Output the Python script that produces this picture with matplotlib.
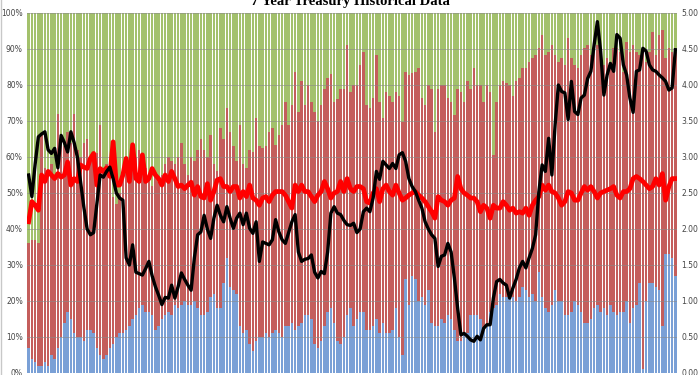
import matplotlib
matplotlib.use('Agg')
import matplotlib.pyplot as plt
import numpy as np

# share of each auction taken by directs (blue) and directs + indirects (top of red)
direct = [7, 4, 3, 2, 2, 3, 2, 5, 4, 7,
          10, 14, 17, 15, 11, 10, 10, 9, 12, 12,
          11, 7, 5, 4, 5, 7, 8, 10, 11, 11,
          12, 13, 15, 16, 18, 19, 17, 17, 16, 12,
          13, 15, 16, 17, 16, 19, 18, 19, 20, 19,
          19, 20, 18, 16, 16, 17, 21, 22, 18, 18,
          25, 32, 24, 23, 22, 13, 11, 12, 8, 6,
          9, 10, 10, 11, 10, 11, 12, 11, 10, 13,
          13, 14, 12, 13, 14, 16, 16, 15, 8, 7,
          9, 13, 17, 18, 14, 9, 8, 10, 16, 18,
          13, 15, 17, 17, 12, 12, 13, 15, 11, 14,
          11, 11, 12, 18, 10, 5, 26, 19, 27, 26,
          20, 21, 19, 23, 14, 13, 13, 15, 14, 16,
          15, 12, 9, 9, 11, 11, 16, 16, 16, 15,
          12, 13, 17, 18, 19, 22, 21, 21, 21, 21,
          20, 21, 24, 23, 21, 22, 20, 28, 21, 18,
          17, 19, 23, 20, 20, 16, 16, 17, 20, 19,
          17, 14, 14, 15, 18, 19, 17, 18, 16, 19,
          17, 16, 17, 17, 20, 14, 18, 19, 25, 1,
          20, 25, 25, 24, 23, 13, 33, 33, 32, 27]

non_dealer = [36, 37, 37, 36, 66, 57, 56, 58, 55, 72,
              65, 63, 67, 64, 72, 62, 60, 64, 65, 60,
              59, 61, 69, 56, 58, 55, 49, 47, 50, 56,
              58, 55, 57, 60, 62, 58, 57, 54, 52, 55,
              53, 55, 58, 60, 59, 58, 60, 64, 58, 55,
              60, 59, 62, 65, 62, 60, 66, 58, 56, 68,
              65, 73.5, 67, 63, 59, 69, 58, 57, 62, 61.5,
              70.7, 63, 62.4, 63, 67, 68, 63.3, 66, 69, 75.4,
              69, 74.4, 83.7, 72.6, 81, 74.4, 80, 75.4, 72.6, 70,
              74.4, 79, 82, 83, 75.4, 76, 79, 79, 91, 78,
              80, 80, 85.6, 89.3, 74.4, 73.5, 76.3, 88.3, 75.4, 70.7,
              78, 77, 75.4, 78, 77, 69.8, 83.7, 82.8, 83.3, 83.7,
              84.6, 76.3, 74.4, 80, 79, 67, 79, 80, 80, 76.3,
              75.4, 71.7, 79, 78, 75.4, 81, 79, 84.6, 80, 80,
              75.4, 80, 78, 60.6, 75.4, 80, 81, 80.5, 80, 77,
              81, 82, 84.6, 84.6, 86.5, 87.4, 88.3, 90.2, 93.9, 88.3,
              89.3, 91, 88.3, 86.5, 87.4, 85.6, 93, 87.4, 85.6, 84.6,
              88.3, 90.2, 91, 88.3, 89.3, 91, 89.3, 85.6, 87.4, 85.6,
              90.2, 90.2, 89.3, 83.7, 92, 89.3, 91, 89.3, 88.3, 90.2,
              86.5, 89.3, 94.8, 88.3, 93.9, 95.3, 87.4, 90.2, 89.3, 89.3]

high_yield = [2.75, 2.45, 2.9, 3.28, 3.32, 3.35, 3.1, 3.05, 3.12, 2.85,
              3.3, 3.2, 3.07, 3.35, 3.2, 3.0, 2.65, 2.3, 2.0, 1.92,
              1.95, 2.35, 2.75, 2.72, 2.8, 2.86, 2.7, 2.5, 2.43, 2.4,
              1.6, 1.5, 1.78, 1.4, 1.38, 1.36, 1.45, 1.55, 1.35, 1.2,
              1.08, 0.95, 1.05, 1.04, 1.22, 1.04, 1.2, 1.39, 1.3, 1.22,
              1.15, 1.6, 1.92, 1.96, 2.19, 2.0, 1.87, 2.15, 2.33, 2.19,
              2.1, 2.31, 2.15, 2.01, 2.15, 2.22, 2.06, 2.22, 2.01, 1.94,
              2.1, 1.55, 1.82, 1.8, 1.78, 1.85, 2.13, 1.96, 1.85, 1.8,
              1.95, 2.1, 2.2, 1.68, 1.55, 1.58, 1.59, 1.64, 1.4, 1.32,
              1.41, 1.38, 1.68, 2.22, 2.31, 2.22, 2.2, 2.12, 2.06, 2.05,
              2.08, 1.95, 2.0, 2.24, 2.29, 2.24, 2.43, 2.8, 2.69, 2.94,
              2.89, 2.84, 2.91, 2.84, 3.03, 3.06, 2.94, 2.7, 2.59, 2.52,
              2.4, 2.29, 2.1, 2.0, 1.92, 1.87, 1.48, 1.62, 1.64, 1.8,
              1.68, 1.32, 0.9, 0.53, 0.55, 0.51, 0.46, 0.44, 0.51, 0.46,
              0.62, 0.67, 0.67, 1.04, 1.27, 1.3, 1.25, 1.22, 1.04, 1.18,
              1.3, 1.46, 1.55, 1.46, 1.6, 1.73, 1.92, 2.52, 2.89, 2.8,
              3.26, 2.75, 3.45, 4.0, 3.91, 3.89, 3.52, 4.05, 3.63, 3.59,
              3.82, 3.86, 4.09, 4.19, 4.56, 4.88, 4.47, 3.86, 4.14, 4.3,
              4.19, 4.7, 4.65, 4.28, 4.14, 3.82, 3.62, 4.19, 4.21, 4.51,
              4.47, 4.28, 4.21, 4.19, 4.14, 4.1, 4.05, 3.93, 3.96, 4.49]

bid_to_cover = [2.1, 2.38, 2.33, 2.26, 2.75, 2.66, 2.8, 2.75, 2.7, 2.77,
                2.72, 2.75, 2.93, 2.61, 2.7, 2.66, 2.89, 2.86, 2.84, 2.98,
                3.05, 2.61, 2.84, 2.8, 2.85, 2.73, 3.21, 2.61, 2.61, 2.75,
                2.98, 2.66, 3.17, 2.7, 2.66, 3.03, 2.66, 2.7, 2.84, 2.75,
                2.7, 2.61, 2.75, 2.66, 2.8, 2.7, 2.59, 2.61, 2.56, 2.61,
                2.65, 2.47, 2.59, 2.45, 2.43, 2.63, 2.4, 2.52, 2.68, 2.7,
                2.59, 2.59, 2.52, 2.59, 2.59, 2.43, 2.52, 2.45, 2.61, 2.43,
                2.4, 2.33, 2.43, 2.45, 2.38, 2.47, 2.52, 2.52, 2.52, 2.47,
                2.38, 2.29, 2.61, 2.52, 2.61, 2.52, 2.52, 2.45, 2.38, 2.47,
                2.52, 2.66, 2.56, 2.43, 2.5, 2.52, 2.66, 2.52, 2.7, 2.56,
                2.52, 2.59, 2.59, 2.56, 2.38, 2.36, 2.5, 2.56, 2.38, 2.56,
                2.61, 2.52, 2.47, 2.61, 2.5, 2.4, 2.43, 2.47, 2.5, 2.52,
                2.47, 2.43, 2.38, 2.31, 2.24, 2.15, 2.45, 2.4, 2.38, 2.33,
                2.4, 2.43, 2.73, 2.56, 2.5, 2.47, 2.43, 2.43, 2.38, 2.24,
                2.33, 2.29, 2.15, 2.33, 2.29, 2.29, 2.38, 2.33, 2.26, 2.29,
                2.22, 2.24, 2.22, 2.29, 2.19, 2.33, 2.4, 2.45, 2.61, 2.54,
                2.61, 2.52, 2.5, 2.43, 2.33, 2.38, 2.52, 2.5, 2.4, 2.4,
                2.5, 2.59, 2.54, 2.59, 2.52, 2.43, 2.5, 2.52, 2.54, 2.56,
                2.59, 2.47, 2.43, 2.52, 2.52, 2.56, 2.7, 2.73, 2.7, 2.66,
                2.61, 2.56, 2.59, 2.7, 2.61, 2.77, 2.4, 2.59, 2.7, 2.7]

direct = np.array(direct, dtype=float)
non_dealer = np.array(non_dealer, dtype=float)
indirect = non_dealer - direct
dealers = 100 - non_dealer
x = np.arange(len(direct))

fig = plt.figure(figsize=(7, 3.75), dpi=100)
ax = fig.add_axes([27 / 700, 2 / 375, 650 / 700, 360 / 375])

w = 0.7
ax.bar(x, direct, w, color='#7aa0d6', linewidth=0)
ax.bar(x, indirect, w, bottom=direct, color='#c45e5c', linewidth=0)
ax.bar(x, dealers, w, bottom=non_dealer, color='#a3c16c', linewidth=0)

for g in range(10, 101, 10):
    ax.axhline(g, color='#8a8a8a', lw=0.5, alpha=0.8, zorder=3)

ax.set_xlim(-0.5, len(x) - 0.5)
ax.set_ylim(0, 100)
ax.set_yticks(range(0, 101, 10))
ax.set_yticklabels(['%d%%' % v for v in range(0, 101, 10)])
ax.set_xticks([])
ax.tick_params(axis='y', length=0, labelsize=5.5, labelcolor='#444444', pad=3)
for s in ax.spines.values():
    s.set_visible(False)

ax2 = ax.twinx()
ax2.plot(x, bid_to_cover, color='#ff0000', lw=3.4, solid_joinstyle='round')
ax2.plot(x, high_yield, color='black', lw=2.4, solid_joinstyle='round')
ax2.set_ylim(0, 5)
ax2.set_yticks(np.arange(0, 5.01, 0.5))
ax2.set_yticklabels(['%.2f' % v for v in np.arange(0, 5.01, 0.5)])
ax2.tick_params(axis='y', length=0, labelsize=5.5, labelcolor='#444444', pad=3)
for s in ax2.spines.values():
    s.set_visible(False)

fig.text(0.5, 0.987, '7 Year Treasury Historical Data', ha='center', va='baseline',
         fontsize=10.5, fontweight='bold', family='Liberation Serif')
fig.add_artist(plt.Line2D([0.002, 0.002], [0, 1], color='#c8c8c8', lw=1))

plt.savefig('out.png', dpi=100)
